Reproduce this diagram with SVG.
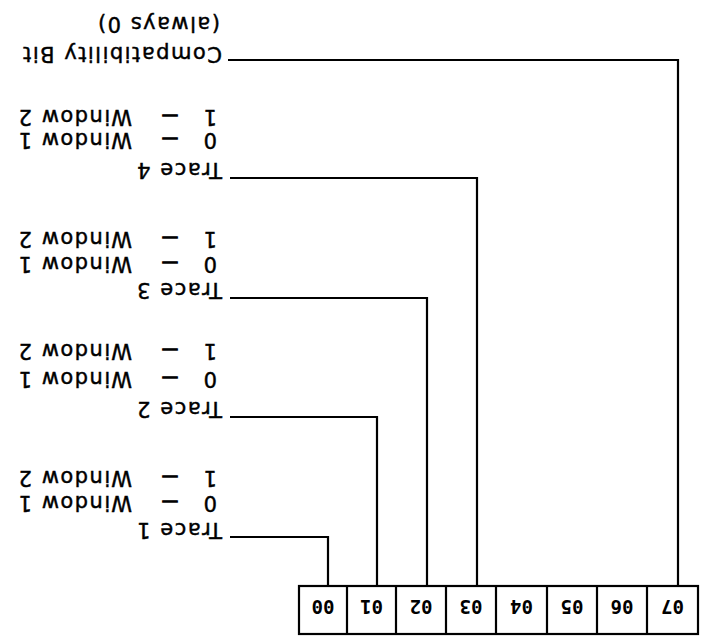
<svg xmlns="http://www.w3.org/2000/svg" width="704" height="636" viewBox="0 0 704 636">
<style>
.ln{fill:none;stroke:#000;stroke-width:2.2}
.cell{font-family:"DejaVu Sans Mono","Liberation Mono",monospace;font-weight:bold;font-size:19px;text-anchor:middle;fill:#000}
.lbl{font-family:"DejaVu Sans","Liberation Sans",sans-serif;font-size:21px;letter-spacing:1.5px;fill:#000;stroke:#000;stroke-width:0.45}
.d{font-size:16px;stroke-width:1.4}
</style>
<rect width="704" height="636" fill="#fff"/>
<g transform="rotate(180 352 318)">
  <g id="register">
    <rect class="ln" x="6" y="2" width="399" height="48"/>
    <path class="ln" d="M57 2V50M107 2V50M157 2V50M208 2V50M258 2V50M308 2V50M357 2V50"/>
    <text class="cell" x="31.5" y="36">07</text>
    <text class="cell" x="82" y="36">06</text>
    <text class="cell" x="132" y="36">05</text>
    <text class="cell" x="182.5" y="36">04</text>
    <text class="cell" x="233" y="36">03</text>
    <text class="cell" x="283" y="36">02</text>
    <text class="cell" x="332.5" y="36">01</text>
    <text class="cell" x="381" y="36">00</text>
  </g>
  <g id="connectors">
    <path class="ln" d="M376 50V99H474"/>
    <path class="ln" d="M327 50V219H474"/>
    <path class="ln" d="M277 50V338H474"/>
    <path class="ln" d="M227 50V458H474"/>
    <path class="ln" d="M26 50V576H476"/>
  </g>
  <g id="trace1">
    <text class="lbl" x="482" y="113">Trace 1</text>
    <text class="lbl"><tspan x="487" y="140">0</tspan><tspan class="d" x="526" y="139">—</tspan><tspan x="572" y="140">Window 1</tspan></text>
    <text class="lbl"><tspan x="487" y="165">1</tspan><tspan class="d" x="526" y="164">—</tspan><tspan x="572" y="165">Window 2</tspan></text>
  </g>
  <g id="trace2">
    <text class="lbl" x="482" y="234">Trace 2</text>
    <text class="lbl"><tspan x="487" y="264">0</tspan><tspan class="d" x="526" y="263">—</tspan><tspan x="572" y="264">Window 1</tspan></text>
    <text class="lbl"><tspan x="487" y="292">1</tspan><tspan class="d" x="526" y="291">—</tspan><tspan x="572" y="292">Window 2</tspan></text>
  </g>
  <g id="trace3">
    <text class="lbl" x="482" y="353">Trace 3</text>
    <text class="lbl"><tspan x="487" y="379">0</tspan><tspan class="d" x="526" y="378">—</tspan><tspan x="572" y="379">Window 1</tspan></text>
    <text class="lbl"><tspan x="487" y="404">1</tspan><tspan class="d" x="526" y="403">—</tspan><tspan x="572" y="404">Window 2</tspan></text>
  </g>
  <g id="trace4">
    <text class="lbl" x="482" y="473">Trace 4</text>
    <text class="lbl"><tspan x="487" y="503">0</tspan><tspan class="d" x="526" y="502">—</tspan><tspan x="572" y="503">Window 1</tspan></text>
    <text class="lbl"><tspan x="487" y="526">1</tspan><tspan class="d" x="526" y="525">—</tspan><tspan x="572" y="526">Window 2</tspan></text>
  </g>
  <g id="compat">
    <text class="lbl" x="482" y="589">Compatibility Bit</text>
    <text class="lbl" x="484" y="619">(always 0)</text>
  </g>
</g>
</svg>
